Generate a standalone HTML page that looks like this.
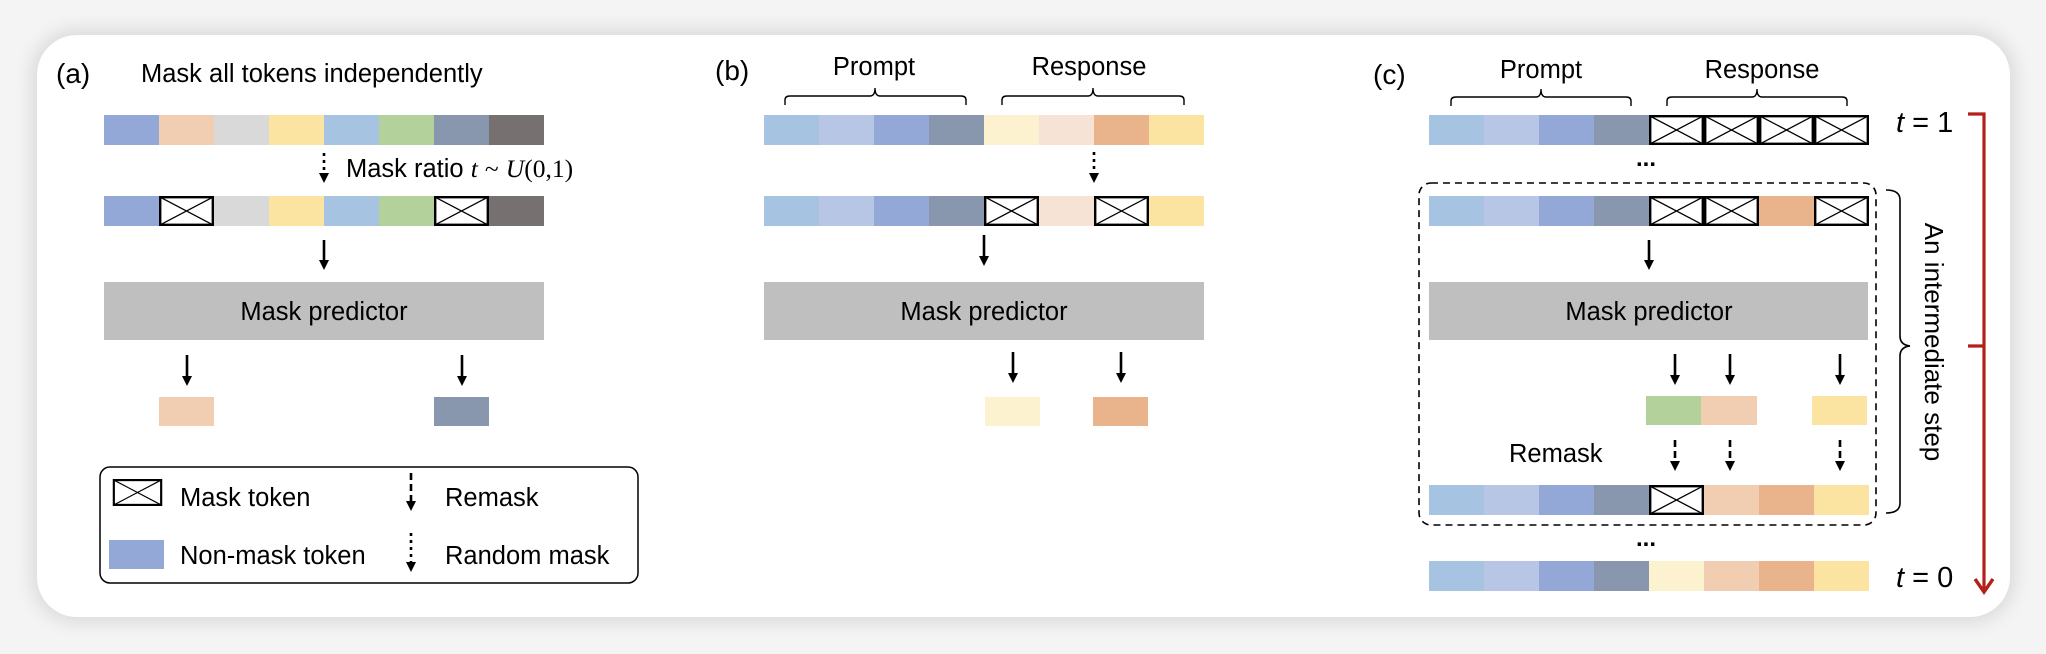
<!DOCTYPE html>
<html><head><meta charset="utf-8"><style>
html,body{margin:0;padding:0;background:#f4f4f4;}
body{width:2046px;height:654px;overflow:hidden;position:relative;}
.card{position:absolute;left:37px;top:35px;width:1973px;height:582px;background:#fff;border-radius:40px;box-shadow:0 0 18px 6px rgba(0,0,0,0.10);}
svg{position:absolute;left:0;top:0;}
text{font-family:"Liberation Sans",Arial,sans-serif;fill:#000;}
.m{font-family:"Liberation Serif",serif;font-style:italic;}
</style></head><body>
<div class="card"></div>
<svg width="2046" height="654" viewBox="0 0 2046 654">
<defs>
<symbol id="mk" viewBox="0 0 55 30" width="55" height="30" overflow="visible">
<rect x="1.2" y="1.2" width="52.6" height="27.6" fill="#fff" stroke="#000" stroke-width="2.4"/>
<path d="M1.2 1.2L53.8 28.8M53.8 1.2L1.2 28.8" stroke="#000" stroke-width="1.3"/>
</symbol>
<marker id="ah" viewBox="0 0 10 10" refX="5" refY="9" markerWidth="10" markerHeight="10" markerUnits="userSpaceOnUse" orient="auto-start-reverse">
<path d="M0 0L10 0L5 10Z" fill="#000" transform="rotate(-90 5 5) rotate(90 5 5)"/>
</marker>
</defs>
<style>
.ar{stroke:#000;stroke-width:2.6;fill:none;}
.ds{stroke-dasharray:7 4;}
.dt{stroke-dasharray:3 4;}
</style>
<!-- arrow helper: vertical line then triangle head -->

<!-- ===== (a) ===== -->
<text x="56" y="83" font-size="28">(a)</text>
<text x="141" y="82" font-size="25.5">Mask all tokens independently</text>
<g>
<rect x="104" y="115" width="55" height="30" fill="#94a8d8"/>
<rect x="159" y="115" width="55" height="30" fill="#f1cdb1"/>
<rect x="214" y="115" width="55" height="30" fill="#d9d9d9"/>
<rect x="269" y="115" width="55" height="30" fill="#fbe4a2"/>
<rect x="324" y="115" width="55" height="30" fill="#a6c3e2"/>
<rect x="379" y="115" width="55" height="30" fill="#b2d19b"/>
<rect x="434" y="115" width="55" height="30" fill="#8896ae"/>
<rect x="489" y="115" width="55" height="30" fill="#767170"/>
</g>
<line x1="324" y1="153" x2="324" y2="174" class="ar dt"/><path d="M319 173L329 173L324 183Z"/>
<text x="346" y="177" font-size="25.5">Mask ratio <tspan class="m">t</tspan> <tspan font-family="Liberation Serif">~</tspan> <tspan class="m">U</tspan><tspan font-family="Liberation Serif">(0,1)</tspan></text>
<g>
<rect x="104" y="196" width="55" height="30" fill="#94a8d8"/>
<use href="#mk" x="159" y="196"/>
<rect x="214" y="196" width="55" height="30" fill="#d9d9d9"/>
<rect x="269" y="196" width="55" height="30" fill="#fbe4a2"/>
<rect x="324" y="196" width="55" height="30" fill="#a6c3e2"/>
<rect x="379" y="196" width="55" height="30" fill="#b2d19b"/>
<use href="#mk" x="434" y="196"/>
<rect x="489" y="196" width="55" height="30" fill="#767170"/>
</g>
<line x1="324" y1="240" x2="324" y2="262" class="ar"/><path d="M319 260L329 260L324 270Z"/>
<rect x="104" y="282" width="440" height="58" fill="#bfbfbf"/>
<text x="324" y="320" font-size="25.5" text-anchor="middle">Mask predictor</text>
<line x1="187" y1="355" x2="187" y2="378" class="ar"/><path d="M182 376L192 376L187 386Z"/>
<line x1="462" y1="355" x2="462" y2="378" class="ar"/><path d="M457 376L467 376L462 386Z"/>
<rect x="159" y="397" width="55" height="29" fill="#f1cdb1"/>
<rect x="434" y="397" width="55" height="29" fill="#8896ae"/>
<!-- legend -->
<rect x="100" y="467" width="538" height="116" rx="10" fill="#fff" stroke="#000" stroke-width="1.5"/>
<use href="#mk" x="111" y="479" width="53" height="27"/>
<text x="180" y="506" font-size="25.5">Mask token</text>
<rect x="109" y="540" width="55" height="29" fill="#94a8d8"/>
<text x="180" y="564" font-size="25.5">Non-mask token</text>
<line x1="411" y1="473" x2="411" y2="502" class="ar ds"/><path d="M406 501L416 501L411 511Z"/>
<text x="445" y="506" font-size="25.5">Remask</text>
<line x1="411" y1="533" x2="411" y2="563" class="ar dt"/><path d="M406 562L416 562L411 572Z"/>
<text x="445" y="564" font-size="25.5">Random mask</text>

<!-- ===== (b) ===== -->
<text x="715" y="80" font-size="28">(b)</text>
<text x="874" y="75" font-size="25.5" text-anchor="middle">Prompt</text>
<text x="1089" y="75" font-size="25.5" text-anchor="middle">Response</text>
<path d="M785 105 V100 Q785 96 790 96 H870 Q875 96 875 88 Q875 96 880 96 H961 Q966 96 966 100 V105" fill="none" stroke="#000" stroke-width="1.4"/>
<path d="M1002 105 V100 Q1002 96 1007 96 H1088 Q1093 96 1093 88 Q1093 96 1098 96 H1179 Q1184 96 1184 100 V105" fill="none" stroke="#000" stroke-width="1.4"/>
<g>
<rect x="764" y="115" width="55" height="30" fill="#a6c3e2"/>
<rect x="819" y="115" width="55" height="30" fill="#b7c6e4"/>
<rect x="874" y="115" width="55" height="30" fill="#94a8d8"/>
<rect x="929" y="115" width="55" height="30" fill="#8896ae"/>
<rect x="984" y="115" width="55" height="30" fill="#fdf2d0"/>
<rect x="1039" y="115" width="55" height="30" fill="#f7e3d6"/>
<rect x="1094" y="115" width="55" height="30" fill="#e9b48b"/>
<rect x="1149" y="115" width="55" height="30" fill="#fbe4a2"/>
</g>
<line x1="1094" y1="152" x2="1094" y2="174" class="ar dt"/><path d="M1089 173L1099 173L1094 183Z"/>
<g>
<rect x="764" y="196" width="55" height="30" fill="#a6c3e2"/>
<rect x="819" y="196" width="55" height="30" fill="#b7c6e4"/>
<rect x="874" y="196" width="55" height="30" fill="#94a8d8"/>
<rect x="929" y="196" width="55" height="30" fill="#8896ae"/>
<use href="#mk" x="984" y="196"/>
<rect x="1039" y="196" width="55" height="30" fill="#f7e3d6"/>
<use href="#mk" x="1094" y="196"/>
<rect x="1149" y="196" width="55" height="30" fill="#fbe4a2"/>
</g>
<line x1="984" y1="235" x2="984" y2="258" class="ar"/><path d="M979 256L989 256L984 266Z"/>
<rect x="764" y="282" width="440" height="58" fill="#bfbfbf"/>
<text x="984" y="320" font-size="25.5" text-anchor="middle">Mask predictor</text>
<line x1="1013" y1="352" x2="1013" y2="375" class="ar"/><path d="M1008 373L1018 373L1013 383Z"/>
<line x1="1121" y1="352" x2="1121" y2="375" class="ar"/><path d="M1116 373L1126 373L1121 383Z"/>
<rect x="985" y="397" width="55" height="29" fill="#fdf2d0"/>
<rect x="1093" y="397" width="55" height="29" fill="#e9b48b"/>

<!-- ===== (c) ===== -->
<text x="1373" y="84" font-size="28">(c)</text>
<text x="1541" y="78" font-size="25.5" text-anchor="middle">Prompt</text>
<text x="1762" y="78" font-size="25.5" text-anchor="middle">Response</text>
<path d="M1451 106 V101 Q1451 97 1456 97 H1536 Q1541 97 1541 89 Q1541 97 1546 97 H1626 Q1631 97 1631 101 V106" fill="none" stroke="#000" stroke-width="1.4"/>
<path d="M1667 106 V101 Q1667 97 1672 97 H1752 Q1757 97 1757 89 Q1757 97 1762 97 H1842 Q1847 97 1847 101 V106" fill="none" stroke="#000" stroke-width="1.4"/>
<g>
<rect x="1429" y="115" width="55" height="30" fill="#a6c3e2"/>
<rect x="1484" y="115" width="55" height="30" fill="#b7c6e4"/>
<rect x="1539" y="115" width="55" height="30" fill="#94a8d8"/>
<rect x="1594" y="115" width="55" height="30" fill="#8896ae"/>
<use href="#mk" x="1649" y="115"/>
<use href="#mk" x="1704" y="115"/>
<use href="#mk" x="1759" y="115"/>
<use href="#mk" x="1814" y="115"/>
</g>
<text x="1646" y="166" font-size="24" font-weight="bold" text-anchor="middle">...</text>
<rect x="1419" y="183" width="457" height="342" rx="12" fill="none" stroke="#000" stroke-width="1.6" stroke-dasharray="7 5"/>
<g>
<rect x="1429" y="196" width="55" height="30" fill="#a6c3e2"/>
<rect x="1484" y="196" width="55" height="30" fill="#b7c6e4"/>
<rect x="1539" y="196" width="55" height="30" fill="#94a8d8"/>
<rect x="1594" y="196" width="55" height="30" fill="#8896ae"/>
<use href="#mk" x="1649" y="196"/>
<use href="#mk" x="1704" y="196"/>
<rect x="1759" y="196" width="55" height="30" fill="#e9b48b"/>
<use href="#mk" x="1814" y="196"/>
</g>
<line x1="1649" y1="240" x2="1649" y2="262" class="ar"/><path d="M1644 260L1654 260L1649 270Z"/>
<rect x="1429" y="282" width="439" height="58" fill="#bfbfbf"/>
<text x="1649" y="320" font-size="25.5" text-anchor="middle">Mask predictor</text>
<line x1="1675" y1="354" x2="1675" y2="377" class="ar"/><path d="M1670 375L1680 375L1675 385Z"/>
<line x1="1730" y1="354" x2="1730" y2="377" class="ar"/><path d="M1725 375L1735 375L1730 385Z"/>
<line x1="1840" y1="354" x2="1840" y2="377" class="ar"/><path d="M1835 375L1845 375L1840 385Z"/>
<rect x="1646" y="396" width="55" height="29" fill="#b2d19b"/>
<rect x="1701" y="396" width="56" height="29" fill="#f1cdb1"/>
<rect x="1812" y="396" width="55" height="29" fill="#fbe4a2"/>
<text x="1509" y="462" font-size="25.5">Remask</text>
<line x1="1675" y1="440" x2="1675" y2="462" class="ar ds"/><path d="M1670 461L1680 461L1675 471Z"/>
<line x1="1730" y1="440" x2="1730" y2="462" class="ar ds"/><path d="M1725 461L1735 461L1730 471Z"/>
<line x1="1840" y1="440" x2="1840" y2="462" class="ar ds"/><path d="M1835 461L1845 461L1840 471Z"/>
<g>
<rect x="1429" y="485" width="55" height="30" fill="#a6c3e2"/>
<rect x="1484" y="485" width="55" height="30" fill="#b7c6e4"/>
<rect x="1539" y="485" width="55" height="30" fill="#94a8d8"/>
<rect x="1594" y="485" width="55" height="30" fill="#8896ae"/>
<use href="#mk" x="1649" y="485"/>
<rect x="1704" y="485" width="55" height="30" fill="#f1cdb1"/>
<rect x="1759" y="485" width="55" height="30" fill="#e9b48b"/>
<rect x="1814" y="485" width="55" height="30" fill="#fbe4a2"/>
</g>
<text x="1646" y="546" font-size="24" font-weight="bold" text-anchor="middle">...</text>
<g>
<rect x="1429" y="561" width="55" height="30" fill="#a6c3e2"/>
<rect x="1484" y="561" width="55" height="30" fill="#b7c6e4"/>
<rect x="1539" y="561" width="55" height="30" fill="#94a8d8"/>
<rect x="1594" y="561" width="55" height="30" fill="#8896ae"/>
<rect x="1649" y="561" width="55" height="30" fill="#fdf2d0"/>
<rect x="1704" y="561" width="55" height="30" fill="#f1cdb1"/>
<rect x="1759" y="561" width="55" height="30" fill="#e9b48b"/>
<rect x="1814" y="561" width="55" height="30" fill="#fbe4a2"/>
</g>
<text x="1896" y="132" font-size="29" font-family="Liberation Serif"><tspan font-style="italic">t</tspan> = 1</text>
<text x="1896" y="587" font-size="29" font-family="Liberation Serif"><tspan font-style="italic">t</tspan> = 0</text>
<!-- big brace -->
<path d="M1886 190 Q1900 190 1900 200 V336 Q1900 345 1910 346 Q1900 347 1900 356 V503 Q1900 513 1886 513" fill="none" stroke="#000" stroke-width="1.6"/>
<text transform="translate(1925,342) rotate(90)" font-size="26" text-anchor="middle">An intermediate step</text>
<!-- red timeline -->
<path d="M1968 114 H1984 V590 M1968 346 H1984" fill="none" stroke="#b5211a" stroke-width="3.2"/>
<path d="M1975 579 L1984 592 L1993 579" fill="none" stroke="#b5211a" stroke-width="3.4"/>
</svg>
</body></html>
